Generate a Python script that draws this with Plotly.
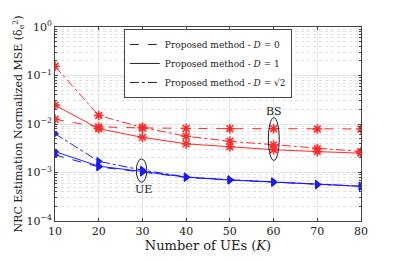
import plotly.graph_objects as go

K = [10, 20, 30, 40, 50, 60, 70, 80]
bs_d0 = [1.25e-2, 8.7e-3, 8.3e-3, 8.1e-3, 8.0e-3, 8.0e-3, 7.9e-3, 7.9e-3]
bs_d1 = [2.45e-2, 8.0e-3, 5.3e-3, 3.9e-3, 3.4e-3, 2.95e-3, 2.7e-3, 2.5e-3]
bs_d2 = [1.55e-1, 1.5e-2, 8.5e-3, 5.6e-3, 4.4e-3, 3.7e-3, 3.1e-3, 2.7e-3]
ue_d0 = [2.3e-3, 1.3e-3, 1.02e-3, 7.9e-4, 7.0e-4, 6.3e-4, 5.6e-4, 5.2e-4]
ue_d1 = [2.7e-3, 1.35e-3, 1.05e-3, 8.0e-4, 7.0e-4, 6.3e-4, 5.6e-4, 5.2e-4]
ue_d2 = [6.3e-3, 1.7e-3, 1.12e-3, 8.1e-4, 7.1e-4, 6.4e-4, 5.7e-4, 5.2e-4]
legend_names = ["Proposed method - <i>D</i> = 0",
                "Proposed method - <i>D</i> = 1",
                "Proposed method - <i>D</i> = √2"]
ytick_vals = [1e-4, 1e-3, 1e-2, 1e-1, 1]
ytick_text = ["10<sup>−4</sup>", "10<sup>−3</sup>", "10<sup>−2</sup>", "10<sup>−1</sup>", "10<sup>0</sup>"]
xtick_vals = [10, 20, 30, 40, 50, 60, 70, 80]

FONT = "DejaVu Serif"
RED = "#ff2a2a"
BLUE = "#1a1aff"
dashes = ["dash", "solid", "dashdot"]

fig = go.Figure()
for ys, dsh in zip([bs_d0, bs_d1, bs_d2], dashes):
    fig.add_trace(go.Scatter(x=K, y=ys, mode="lines+markers", showlegend=False,
                             line=dict(color=RED, width=1, dash=dsh),
                             marker=dict(symbol="asterisk-open", size=8, line=dict(color=RED, width=1.6))))
for ys, dsh in zip([ue_d0, ue_d1, ue_d2], dashes):
    fig.add_trace(go.Scatter(x=K, y=ys, mode="lines+markers", showlegend=False,
                             line=dict(color=BLUE, width=1, dash=dsh),
                             marker=dict(symbol="triangle-right", size=7, color=BLUE,
                                         line=dict(color=BLUE, width=1))))
for name, dsh in zip(legend_names, dashes):
    fig.add_trace(go.Scatter(x=[None], y=[None], mode="lines", name=name,
                             line=dict(color="#222222", width=1, dash=dsh)))

fig.add_shape(type="circle", xref="x", yref="y", x0=58.8, x1=61.3, y0=10**-2.75, y1=10**-1.87,
              line=dict(color="#222222", width=1))
fig.add_shape(type="circle", xref="x", yref="y", x0=28.6, x1=31.0, y0=10**-3.2, y1=10**-2.72,
              line=dict(color="#222222", width=1))
fig.add_annotation(x=60, y=-1.74, text="BS", showarrow=False, font=dict(family=FONT, size=11, color="#222"))
fig.add_annotation(x=30.2, y=-3.36, text="UE", showarrow=False, font=dict(family=FONT, size=11, color="#222"))

fig.update_layout(
    width=391, height=253,
    margin=dict(l=44, r=38, t=11, b=37),
    paper_bgcolor="white", plot_bgcolor="white",
    font=dict(family=FONT, size=11, color="#222222"),
    legend=dict(x=0.225, y=0.99, xanchor="left", yanchor="top",
                bgcolor="white", bordercolor="#444444", borderwidth=1,
                font=dict(family=FONT, size=9), tracegroupgap=0,
                itemwidth=30),
)
fig.update_xaxes(range=[10, 80], tickvals=xtick_vals, showline=True, linecolor="#444444",
                 linewidth=1, mirror="ticks", ticks="inside", ticklen=3,
                 showgrid=True, gridcolor="#e3e3e3", gridwidth=1, zeroline=False,
                 title=dict(text="Number of UEs (<i>K</i>)", font=dict(size=13), standoff=3),
                 tickfont=dict(size=11))
fig.update_yaxes(type="log", range=[-4, 0], tickvals=ytick_vals, ticktext=ytick_text,
                 showline=True, linecolor="#444444", linewidth=1, mirror="ticks",
                 ticks="inside", ticklen=3, showgrid=True, gridcolor="#e3e3e3", gridwidth=1,
                 minor=dict(dtick="D1", showgrid=True, gridcolor="#e0e0e0", griddash="dot",
                            ticks="inside", ticklen=2, tickcolor="#444444"),
                 title=dict(text="NRC Estimation Normalized MSE (δ<sub>e</sub><sup>2</sup>)",
                            font=dict(size=11), standoff=0),
                 tickfont=dict(size=11))

fig.write_html("out.html")
